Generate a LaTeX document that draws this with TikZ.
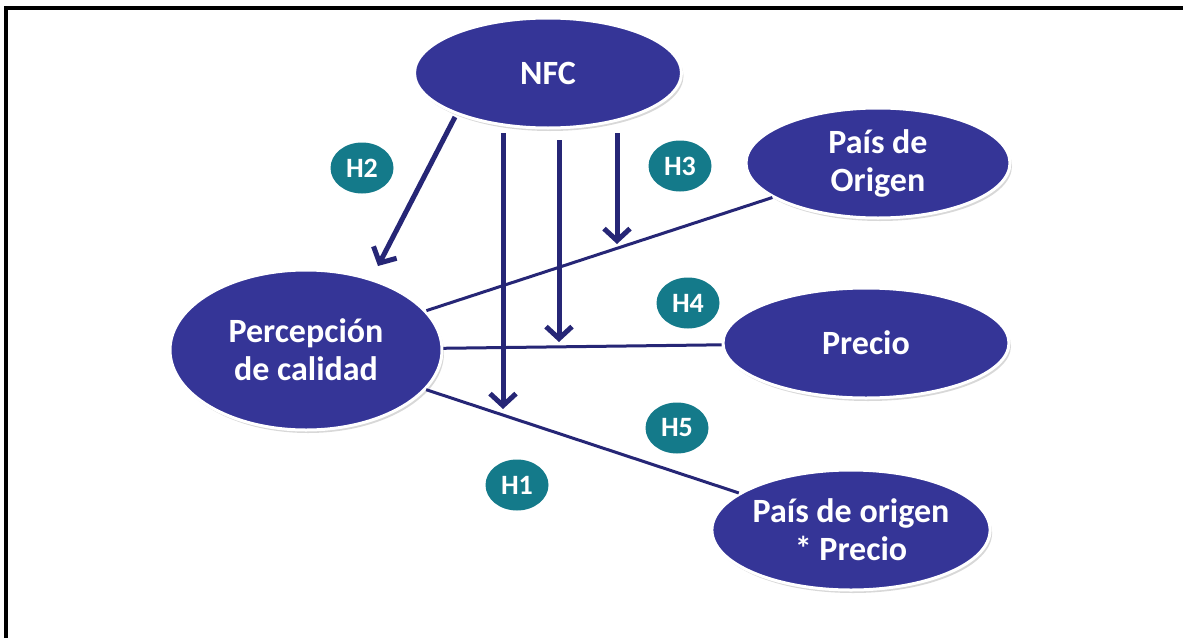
\documentclass[tikz,border=0pt]{standalone}
\usepackage{fontspec}
\setmainfont{Carlito}
\usepackage{tikz}
\usetikzlibrary{shapes.geometric, arrows.meta, shadows}
\definecolor{node}{RGB}{53, 53, 151}
\definecolor{hyp}{RGB}{20, 122, 138}
\definecolor{link}{RGB}{38, 38, 118}

\begin{document}
\begin{tikzpicture}[
   x=1pt, y=-1pt,
   construct/.style={ellipse, draw=white, fill=node, line width=3, text=white,
                     inner sep=0, align=center, font=\bfseries\fontsize{34}{38}\selectfont,
                     drop shadow={shadow xshift=2pt, shadow yshift=-3pt, opacity=0.3}},
   hypo/.style={ellipse, draw=none, fill=hyp, text=white, inner sep=0,
                minimum width=63, minimum height=51,
                font=\bfseries\fontsize{28}{30}\selectfont},
   rel/.style={color=link, line width=3},
   moder/.style={color=link, line width=5, -{Straight Barb[length=12pt, width=26pt]}}
  ]

  \useasboundingbox (0, 0) rectangle (1183, 637);
  \fill[white] (-5, -5) rectangle (1190, 645);

  % Frame
  \draw[black, line width=4] (5.5, 645) -- (5.5, 8) -- (1190, 8);

  % Constructs
  \node (nfc) at (548, 73) [construct, minimum width=267, minimum height=110] {NFC};
  \node (pais) at (878, 163) [construct, minimum width=264, minimum height=110] {País de\\Origen};
  \node (precio) at (866, 343) [construct, minimum width=286, minimum height=110] {Precio};
  \node (inter) at (851, 530) [construct, minimum width=278, minimum height=120] {País de origen\\* Precio};
  \node (perc) at (306, 350) [construct, minimum width=272, minimum height=160] {Percepción\\de calidad};

  % Direct effects
  \foreach \B/\E in {perc/pais, perc/precio, perc/inter} {
    \draw[rel] (\B) -- (\E);
  }

  % Moderating arrows
  \coordinate (s2) at (455, 117);
  \coordinate (e2) at (378, 266);
  \coordinate (s1) at (503, 133);
  \coordinate (e1) at (503, 409);
  \coordinate (s4) at (559, 140);
  \coordinate (e4) at (559, 342);
  \coordinate (s3) at (617, 133);
  \coordinate (e3) at (617, 244);

  \foreach \B/\E in {s2/e2, s1/e1, s4/e4, s3/e3} {
    \draw[moder] (\B) -- (\E);
  }

  % Hypotheses
  \node (h2) at (362, 168) [hypo] {H2};
  \node (h3) at (680, 166) [hypo] {H3};
  \node (h4) at (688, 303) [hypo] {H4};
  \node (h5) at (677, 428) [hypo] {H5};
  \node (h1) at (517, 485) [hypo] {H1};

\end{tikzpicture}
\end{document}
